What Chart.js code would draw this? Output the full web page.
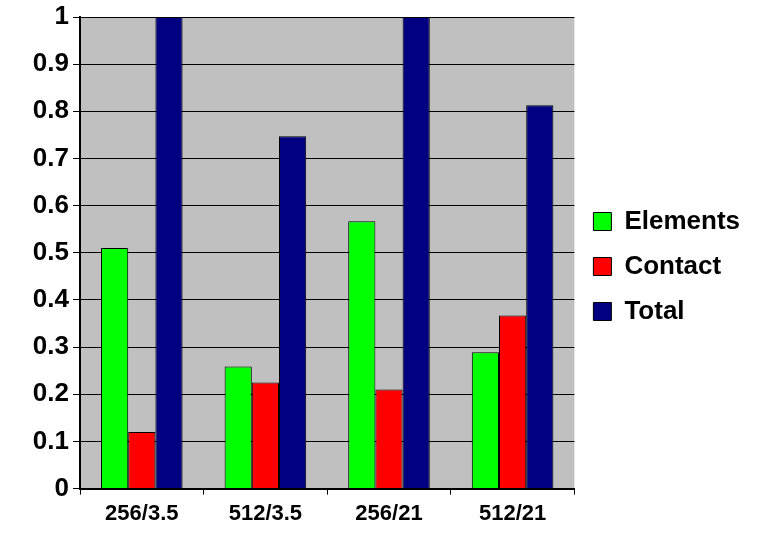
<!DOCTYPE html>
<html>
<head>
<meta charset="utf-8">
<script src="https://cdn.jsdelivr.net/npm/chart.js@4"></script>
<style>
  html, body { margin: 0; padding: 0; background: #fff; }
  #box { width: 774px; height: 533px; }
</style>
</head>
<body>
<div id="box"><canvas id="myChart"></canvas></div>
<script>
let labelsX = ['256/3.5', '512/3.5', '256/21', '512/21'];
let elements = [0.51, 0.259, 0.567, 0.289];
let contact = [0.12, 0.225, 0.21, 0.367];
let total = [1.0, 0.747, 1.0, 0.813];

let plotBg = {
    id: 'plotBg',
    beforeDraw(chart) {
        let a = chart.chartArea;
        let ctx = chart.ctx;
        ctx.save();
        ctx.fillStyle = '#C0C0C0';
        ctx.fillRect(a.left, a.top, a.right - a.left, a.bottom - a.top);
        ctx.restore();
    }
};

let fontFam = 'Liberation Sans, Arial, sans-serif';

let ctx = document.getElementById('myChart').getContext('2d');
let chart = new Chart(ctx, {
    type: 'bar',
    data: {
        labels: labelsX,
        datasets: [
            { label: 'Elements', data: elements, backgroundColor: '#00FF00', borderColor: '#000', borderWidth: 1 },
            { label: 'Contact', data: contact, backgroundColor: '#FF0000', borderColor: '#000', borderWidth: 1 },
            { label: 'Total', data: total, backgroundColor: '#000080', borderColor: '#000', borderWidth: 1 }
        ]
    },
    options: {
        responsive: true,
        maintainAspectRatio: false,
        animation: false,
        layout: { padding: { top: 0, right: 24, bottom: 0, left: 0 } },
        datasets: { bar: { categoryPercentage: 0.66, barPercentage: 1.0 } },
        plugins: {
            legend: {
                position: 'right',
                labels: {
                    color: '#000',
                    font: { family: fontFam, size: 26, weight: 'bold' },
                    boxWidth: 18,
                    boxHeight: 18,
                    padding: 19
                }
            },
            tooltip: { enabled: false }
        },
        scales: {
            x: {
                grid: { drawOnChartArea: false, drawTicks: true, tickLength: 6, color: '#000', offset: true },
                border: { color: '#000', width: 2 },
                ticks: { color: '#000', font: { family: fontFam, size: 22, weight: 'bold' }, padding: 6 }
            },
            y: {
                min: 0,
                max: 1,
                afterFit(scale) { scale.width = 80; scale.paddingTop = 17; },
                grid: { color: '#000', lineWidth: 1, tickLength: 7 },
                border: { color: '#000', width: 2 },
                ticks: {
                    stepSize: 0.1,
                    color: '#000',
                    font: { family: fontFam, size: 26, weight: 'bold' },
                    padding: 4,
                    callback: v => String(+v.toFixed(1))
                }
            }
        }
    },
    plugins: [plotBg]
});
</script>
</body>
</html>
